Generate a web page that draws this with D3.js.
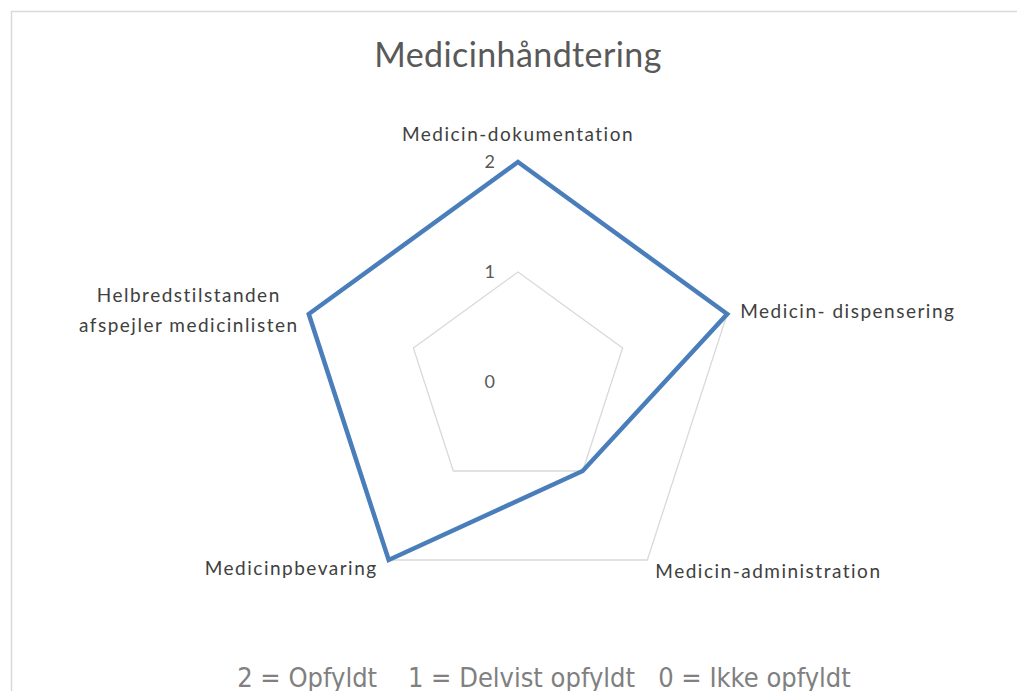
<!DOCTYPE html>
<html><head><meta charset="utf-8">
<script src="https://cdn.jsdelivr.net/npm/d3@7"></script>
<style>
html,body{margin:0;padding:0;background:#fff;}
svg text{white-space:pre;}
</style></head>
<body><svg id="c" width="1017" height="691"></svg>
<script>
const title = "Medicinhåndtering";
const categories = ["Medicin-dokumentation","Medicin- dispensering","Medicin-administration","Medicinpbevaring","Helbredstilstanden\nafspejler medicinlisten"];
const values = [2, 2, 1, 2, 2];
const ticks = [0, 1, 2];
const legendText = "2 = Opfyldt    1 = Delvist opfyldt   0 = Ikke opfyldt";

const svg = d3.select("#c");
svg.append("rect").attr("x",11.5).attr("y",11.5).attr("width",1100).attr("height",1000)
  .attr("fill","#fff").attr("stroke","#d9d9d9").attr("stroke-width",1.5);

const cx = 518, cy = 382;
const r = d3.scaleLinear().domain([0,2]).range([0,220]);
const n = categories.length;
const ang = i => i*2*Math.PI/n;
const pt = (i,v) => [cx + r(v)*Math.sin(ang(i)), cy - r(v)*Math.cos(ang(i))];

const font = "Lato, 'Open Sans', sans-serif";
svg.append("text").attr("x",cx).attr("y",67).attr("text-anchor","middle")
  .attr("font-family",font).attr("font-size",34).attr("letter-spacing",0.4).attr("fill","#595959").text(title);

// gridlines
const line = d3.line();
ticks.filter(t=>t>0).forEach(t=>{
  const pts = d3.range(n).map(i=>pt(i,t));
  svg.append("path").attr("d", line(pts)+"Z").attr("fill","none").attr("stroke","#d9d9d9").attr("stroke-width",1.3);
});

// tick labels
ticks.forEach(t=>{
  const [x,y] = pt(0,t);
  svg.append("text").attr("x",x-23).attr("y",y+6).attr("text-anchor","end")
    .attr("font-family",font).attr("font-size",18).attr("fill","#595959").text(t);
});

// data
svg.append("path").attr("d", line(values.map((v,i)=>pt(i,v)))+"Z")
  .attr("fill","none").attr("stroke","#4a7ebb").attr("stroke-width",4.5).attr("stroke-linejoin","miter");

// category labels
const labelPos = [
  {dx:0, dy:-21, anchor:"middle"},
  {dx:13, dy:4, anchor:"start"},
  {dx:8, dy:18, anchor:"start"},
  {dx:-11, dy:15, anchor:"end"},
  {dx:-120, dy:-12, anchor:"middle"}
];
categories.forEach((c,i)=>{
  const [x,y] = pt(i,2);
  const p = labelPos[i];
  const lines = c.split("\n");
  const t = svg.append("text").attr("text-anchor",p.anchor)
    .attr("font-family",font).attr("font-size",19).attr("letter-spacing",1.5).attr("fill","#404040");
  lines.forEach((l,k)=>{
    t.append("tspan").attr("x",x+p.dx).attr("y",y+p.dy+k*30).text(l);
  });
});

svg.append("text").attr("x",544).attr("y",687).attr("text-anchor","middle")
  .attr("font-family","'DejaVu Sans Condensed', 'DejaVu Sans', sans-serif").attr("font-stretch","condensed")
  .attr("font-size",27).attr("fill","#808080").text(legendText);
</script></body></html>
